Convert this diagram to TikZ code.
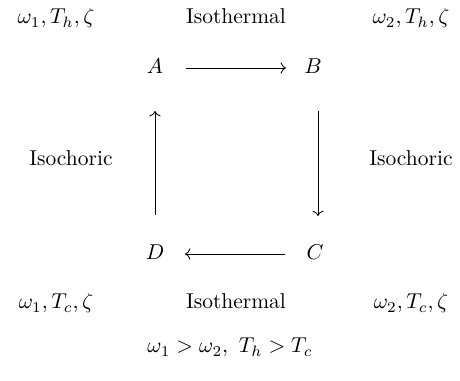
\documentclass[tikz,border=0pt]{standalone}
\usetikzlibrary{arrows.meta}
\begin{document}
\begin{tikzpicture}[x=0.465pt,y=-0.465pt,
  lbl/.style={inner sep=0pt,anchor=base},
  pt/.style={inner sep=2pt},
  arr/.style={line width=0.4pt,-{Computer Modern Rightarrow}}]
\useasboundingbox (0,0) rectangle (460,381);
% top row
\node[lbl] (tl) at (56,24) {$\omega_1, T_h, \zeta$};
\node[lbl] (tm) at (236,24) {Isothermal};
\node[lbl] (tr) at (411,24) {$\omega_2, T_h, \zeta$};
% corners
\node[lbl] (A) at (155,74) {$A$};
\node[lbl] (B) at (313,74) {$B$};
\node[lbl] (D) at (155,260) {$D$};
\node[lbl] (C) at (315,260) {$C$};
% sides
\node[lbl] (il) at (71,166) {Isochoric};
\node[lbl] (ir) at (411,166) {Isochoric};
% bottom row
\node[lbl] (bl) at (56,309) {$\omega_1, T_c, \zeta$};
\node[lbl] (bm) at (236,309) {Isothermal};
\node[lbl] (br) at (411,309) {$\omega_2, T_c, \zeta$};
\node[lbl] (cond) at (230,353) {$\omega_1 > \omega_2,\ T_h > T_c$};
% arrows
\coordinate (a1) at (186,68);
\coordinate (b1) at (286,68);
\coordinate (c1) at (285,254);
\coordinate (d1) at (185,254);
\coordinate (bt) at (318,111);
\coordinate (cb) at (318,216);
\coordinate (db) at (155,215);
\coordinate (at) at (155,111);
\draw[arr] (a1) -- (b1);
\draw[arr] (bt) -- (cb);
\draw[arr] (c1) -- (d1);
\draw[arr] (db) -- (at);
\end{tikzpicture}
\end{document}
